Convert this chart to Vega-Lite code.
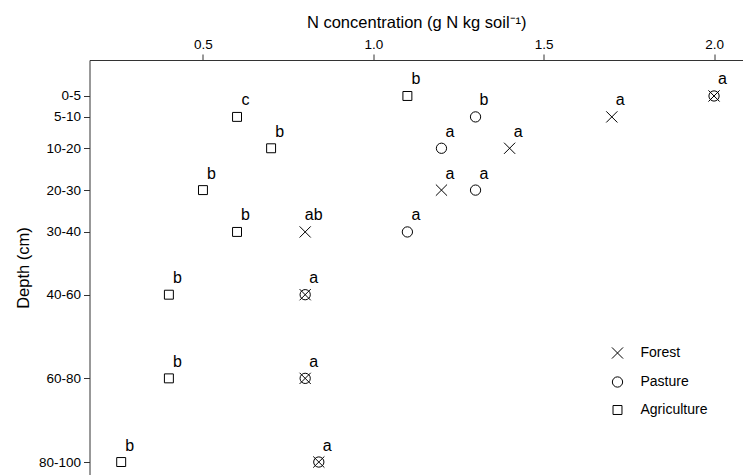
{
  "$schema": "https://vega.github.io/schema/vega-lite/v6.json",
  "width": 653.5,
  "height": 415,
  "autosize": {"type": "none"},
  "padding": {"left": 89.5, "top": 60, "right": 0, "bottom": 0},
  "background": "white",
  "config": {
    "view": {"stroke": null},
    "font": "Liberation Sans",
    "axis": {
      "grid": false,
      "domainColor": "#333",
      "tickColor": "#333",
      "labelColor": "#000",
      "titleColor": "#000",
      "labelFontSize": 13.5,
      "titleFontSize": 16.5,
      "titleFontWeight": "normal",
      "tickSize": 6,
      "labelPadding": 3
    }
  },
  "data": {
    "values": [
      {"depth": "0-5", "mid": 2.5, "use": "Agriculture", "N": 1.1, "letter": "b"},
      {"depth": "0-5", "mid": 2.5, "use": "Forest", "N": 2.0, "letter": "a"},
      {"depth": "0-5", "mid": 2.5, "use": "Pasture", "N": 2.0, "letter": "a"},
      {"depth": "5-10", "mid": 7.5, "use": "Agriculture", "N": 0.6, "letter": "c"},
      {"depth": "5-10", "mid": 7.5, "use": "Pasture", "N": 1.3, "letter": "b"},
      {"depth": "5-10", "mid": 7.5, "use": "Forest", "N": 1.7, "letter": "a"},
      {"depth": "10-20", "mid": 15, "use": "Agriculture", "N": 0.7, "letter": "b"},
      {"depth": "10-20", "mid": 15, "use": "Pasture", "N": 1.2, "letter": "a"},
      {"depth": "10-20", "mid": 15, "use": "Forest", "N": 1.4, "letter": "a"},
      {"depth": "20-30", "mid": 25, "use": "Agriculture", "N": 0.5, "letter": "b"},
      {"depth": "20-30", "mid": 25, "use": "Forest", "N": 1.2, "letter": "a"},
      {"depth": "20-30", "mid": 25, "use": "Pasture", "N": 1.3, "letter": "a"},
      {"depth": "30-40", "mid": 35, "use": "Agriculture", "N": 0.6, "letter": "b"},
      {"depth": "30-40", "mid": 35, "use": "Forest", "N": 0.8, "letter": "ab"},
      {"depth": "30-40", "mid": 35, "use": "Pasture", "N": 1.1, "letter": "a"},
      {"depth": "40-60", "mid": 50, "use": "Agriculture", "N": 0.4, "letter": "b"},
      {"depth": "40-60", "mid": 50, "use": "Forest", "N": 0.8, "letter": "a"},
      {"depth": "40-60", "mid": 50, "use": "Pasture", "N": 0.8, "letter": "a"},
      {"depth": "60-80", "mid": 70, "use": "Agriculture", "N": 0.4, "letter": "b"},
      {"depth": "60-80", "mid": 70, "use": "Forest", "N": 0.8, "letter": "a"},
      {"depth": "60-80", "mid": 70, "use": "Pasture", "N": 0.8, "letter": "a"},
      {"depth": "80-100", "mid": 90, "use": "Agriculture", "N": 0.26, "letter": "b"},
      {"depth": "80-100", "mid": 90, "use": "Forest", "N": 0.84, "letter": "a"},
      {"depth": "80-100", "mid": 90, "use": "Pasture", "N": 0.84, "letter": "a"}
    ]
  },
  "layer": [
    {
      "mark": {"type": "point", "filled": false, "color": "#000", "strokeWidth": 1, "size": 80, "opacity": 1},
      "encoding": {
        "x": {
          "field": "N", "type": "quantitative",
          "scale": {"domain": [0.167, 2.085], "nice": false, "zero": false},
          "axis": {"orient": "top", "values": [0.5, 1.0, 1.5, 2.0], "format": ".1f", "title": "N concentration (g N kg soil⁻¹)", "titlePadding": 7}
        },
        "y": {
          "field": "mid", "type": "quantitative",
          "scale": {"domain": [-6.1, 93.1], "nice": false, "zero": false, "reverse": true},
          "axis": {
            "orient": "left",
            "values": [2.5, 7.5, 15, 25, 35, 50, 70, 90],
            "labelExpr": "datum.value==2.5?'0-5':datum.value==7.5?'5-10':datum.value==15?'10-20':datum.value==25?'20-30':datum.value==35?'30-40':datum.value==50?'40-60':datum.value==70?'60-80':'80-100'",
            "title": "Depth (cm)",
            "titlePadding": 7
          }
        },
        "shape": {
          "field": "use", "type": "nominal",
          "scale": {
            "domain": ["Forest", "Pasture", "Agriculture"],
            "range": ["M-1.25,-1.25L1.25,1.25M-1.25,1.25L1.25,-1.25", "M1.15,0A1.15,1.15,0,1,1,-1.15,0A1.15,1.15,0,1,1,1.15,0Z", "square"]
          },
          "legend": {
            "title": null,
            "orient": "none",
            "legendX": 521,
            "legendY": 286,
            "padding": 0,
            "labelFontSize": 14,
            "labelColor": "#000",
            "labelOffset": 16,
            "rowPadding": 13,
            "symbolStrokeColor": "#000",
            "symbolFillColor": "transparent",
            "symbolStrokeWidth": 1,
            "symbolSize": 80
          }
        }
      }
    },
    {
      "transform": [{"aggregate": [{"op": "count", "as": "n"}], "groupby": ["mid", "N", "letter"]}],
      "mark": {"type": "text", "dx": 8.5, "dy": -11.5, "baseline": "alphabetic", "align": "center", "fontSize": 16, "color": "#000"},
      "encoding": {
        "x": {"field": "N", "type": "quantitative"},
        "y": {"field": "mid", "type": "quantitative"},
        "text": {"field": "letter"}
      }
    }
  ]
}
